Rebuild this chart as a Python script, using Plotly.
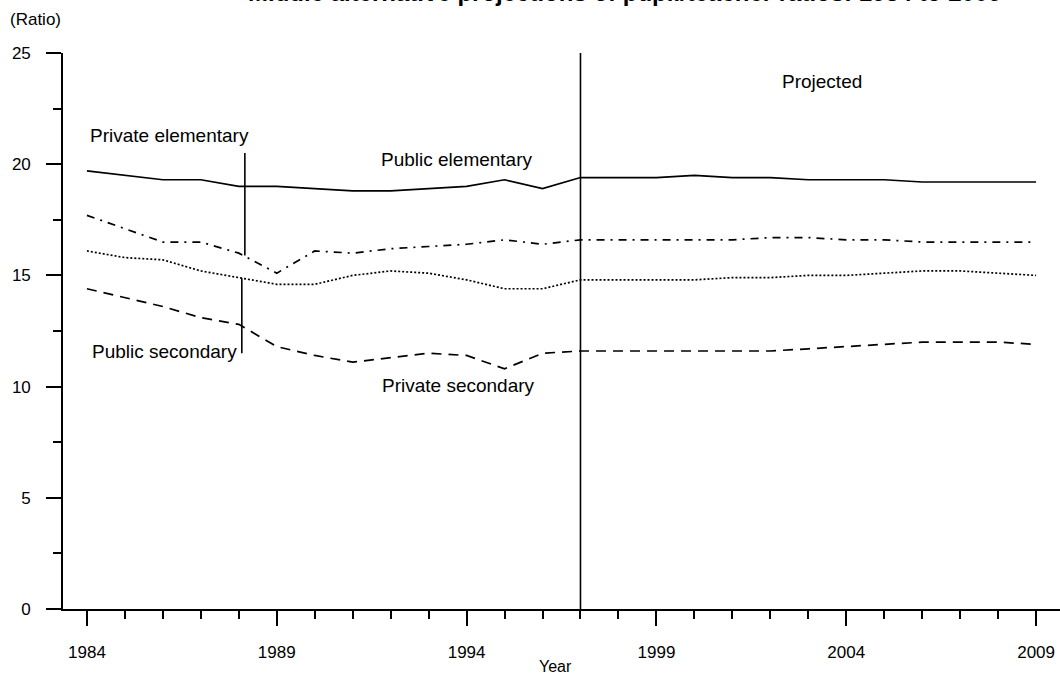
import plotly.graph_objects as go

years = list(range(1984, 2010))
public_elementary = [19.7, 19.5, 19.3, 19.3, 19.0, 19.0, 18.9, 18.8, 18.8, 18.9, 19.0, 19.3, 18.9,
                     19.4, 19.4, 19.4, 19.5, 19.4, 19.4, 19.3, 19.3, 19.3, 19.2, 19.2, 19.2, 19.2]
private_elementary = [17.7, 17.1, 16.5, 16.5, 16.0, 15.1, 16.1, 16.0, 16.2, 16.3, 16.4, 16.6, 16.4,
                      16.6, 16.6, 16.6, 16.6, 16.6, 16.7, 16.7, 16.6, 16.6, 16.5, 16.5, 16.5, 16.5]
public_secondary = [16.1, 15.8, 15.7, 15.2, 14.9, 14.6, 14.6, 15.0, 15.2, 15.1, 14.8, 14.4, 14.4,
                    14.8, 14.8, 14.8, 14.8, 14.9, 14.9, 15.0, 15.0, 15.1, 15.2, 15.2, 15.1, 15.0]
private_secondary = [14.4, 14.0, 13.6, 13.1, 12.8, 11.8, 11.4, 11.1, 11.3, 11.5, 11.4, 10.8, 11.5,
                     11.6, 11.6, 11.6, 11.6, 11.6, 11.6, 11.7, 11.8, 11.9, 12.0, 12.0, 12.0, 11.9]
projection_start = 1997

FONT = "Liberation Sans, Arial, sans-serif"

fig = go.Figure()
series = [
    ("Public elementary", public_elementary, "solid"),
    ("Private elementary", private_elementary, "8px,6px,2px,6px"),
    ("Public secondary", public_secondary, "2px,2px"),
    ("Private secondary", private_secondary, "10px,7px"),
]
for name, vals, dash in series:
    fig.add_trace(go.Scatter(x=years, y=vals, mode="lines", name=name,
                             line=dict(color="black", width=1.7, dash=dash)))

# Projected divider
fig.add_shape(type="line", xref="x", yref="y", x0=projection_start, x1=projection_start,
              y0=0, y1=25, line=dict(color="black", width=1.6))
# Leader lines for labels
fig.add_shape(type="line", xref="x", yref="y", x0=1988.16, x1=1988.16, y0=20.5, y1=15.9,
              line=dict(color="black", width=1.6))
fig.add_shape(type="line", xref="x", yref="y", x0=1988.08, x1=1988.08, y0=14.87, y1=11.5,
              line=dict(color="black", width=1.6))

lab_font = dict(family=FONT, size=19, color="black")
labels = [
    ("Private elementary", 1984.03, 21.27, "left"),
    ("Public elementary", 1993.76, 20.19, "center"),
    ("Public secondary", 1984.08, 11.56, "left"),
    ("Private secondary", 1993.79, 10.03, "center"),
    ("Projected", 2003.36, 23.74, "center"),
]
for text, x, y, xa in labels:
    fig.add_annotation(text=text, x=x, y=y, xref="x", yref="y", xanchor=xa, yanchor="middle",
                       showarrow=False, font=lab_font)

fig.add_annotation(text="(Ratio)", xref="paper", yref="paper", x=-0.0552, y=1.0594,
                   xanchor="left", yanchor="middle", showarrow=False,
                   font=dict(family=FONT, size=17, color="black"))
fig.add_annotation(text="Year", xref="paper", yref="paper", x=0.494, y=-0.104,
                   xanchor="center", yanchor="middle", showarrow=False,
                   font=dict(family=FONT, size=16, color="black"))
fig.add_annotation(text="<b>Middle alternative projections of pupil/teacher ratios: 1984 to 2009</b>",
                   xref="paper", yref="paper", x=0.564, y=1.0815, xanchor="center", yanchor="bottom",
                   showarrow=False, font=dict(family=FONT, size=24, color="black"))

fig.update_layout(
    width=1060, height=686,
    margin=dict(l=63, r=0, t=53, b=77),
    plot_bgcolor="white", paper_bgcolor="white",
    showlegend=False,
    font=dict(family=FONT, size=17, color="black"),
    xaxis=dict(range=[1983.37, 2009.63], tick0=1984, dtick=5, ticks="outside", ticklen=15,
               tickwidth=1.6, tickcolor="black", showline=True, linecolor="black", linewidth=1.6,
               showgrid=False, zeroline=False, ticklabelstandoff=12,
               minor=dict(ticks="outside", ticklen=8, tick0=1984, dtick=1, tickwidth=1.6,
                          tickcolor="black", showgrid=False)),
    yaxis=dict(range=[0, 25], tick0=0, dtick=5, ticks="outside", ticklen=15,
               tickwidth=1.6, tickcolor="black", showline=True, linecolor="black", linewidth=1.6,
               showgrid=False, zeroline=False, ticklabelstandoff=12,
               minor=dict(ticks="outside", ticklen=8, tick0=0, dtick=2.5, tickwidth=1.6,
                          tickcolor="black", showgrid=False)),
)

fig.write_html("out.html", config={"displayModeBar": False},
               post_script="document.body.style.margin='0';")
